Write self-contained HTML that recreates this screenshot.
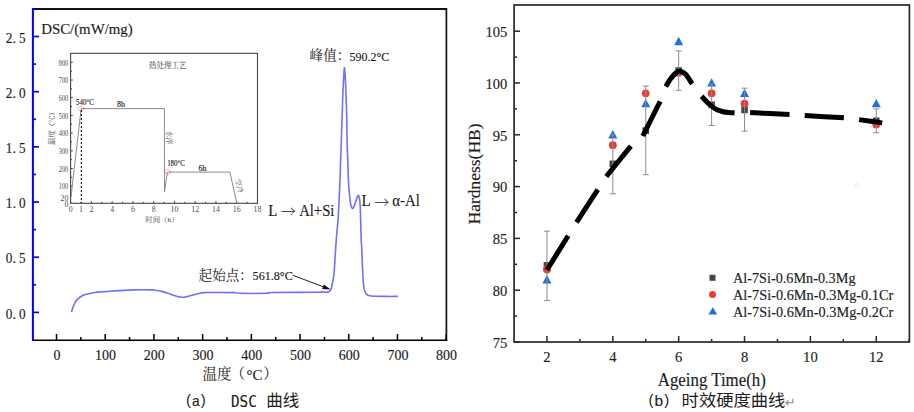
<!DOCTYPE html>
<html><head><meta charset="utf-8"><title>DSC and hardness curves</title>
<style>
html,body{margin:0;padding:0;background:#fff;}
body{width:914px;height:412px;overflow:hidden;}
svg{display:block;}
text{fill:#1c1c1c;stroke:#1c1c1c;stroke-width:0.15px;}
.c13,.c14,.c14p,.cap,.arr,.it,.i8c,.i7c,.ret,.capp{stroke:none;}
.tl{font-family:'Liberation Serif','Noto Serif CJK SC',serif;font-size:14px;}
.yl{font-family:'Liberation Serif','Noto Serif CJK SC',serif;font-size:14.5px;}
.rl{font-family:'Liberation Serif','Noto Serif CJK SC',serif;font-size:14.6px;}
.t15{font-family:'Liberation Serif','Noto Serif CJK SC',serif;font-size:15px;}
.t15b{font-family:'Liberation Serif','Noto Serif CJK SC',serif;font-size:15.6px;}
.t13{font-family:'Liberation Serif','Noto Serif CJK SC',serif;font-size:13px;}
.t17{font-family:'Liberation Serif','Noto Serif CJK SC',serif;font-size:18.6px;}
.t16{font-family:'Liberation Serif','Noto Serif CJK SC',serif;font-size:16.5px;}
.c14{font-family:'Liberation Serif','Noto Serif CJK SC',serif;font-size:14.5px;}
.c14p{font-family:'Liberation Serif','Noto Serif CJK SC',serif;font-size:15px;}
.c13{font-family:'Liberation Serif','Noto Serif CJK SC',serif;font-size:13.6px;}
.arr{font-family:'Noto Serif CJK SC',serif;font-size:15px;}
.capp{font-family:'Liberation Sans',sans-serif;font-size:15px;font-weight:300;}
.capm{font-family:'DejaVu Sans Mono','Liberation Mono',monospace;font-size:15.5px;}
.capa{font-family:'Liberation Sans',sans-serif;font-size:15px;}
.lg{font-family:'Liberation Serif','Noto Serif CJK SC',serif;font-size:14px;}
.cap{font-family:'Liberation Sans','Noto Sans CJK SC',sans-serif;font-size:16px;}
.it{font-family:'Liberation Serif','Noto Serif CJK SC',serif;font-size:7.8px;fill:#4a4a4a;}
.i8{font-family:'Liberation Serif','Noto Serif CJK SC',serif;font-size:8px;}
.i8c{font-family:'Liberation Serif','Noto Serif CJK SC',serif;font-size:7.5px;fill:#333;}
.i7c{font-family:'Liberation Serif','Noto Serif CJK SC',serif;font-size:7px;fill:#444;}
.ret{font-family:'DejaVu Sans',sans-serif;font-size:13px;fill:#8a8a8a;}
</style></head>
<body>
<svg width="914" height="412" viewBox="0 0 914 412">
<rect width="914" height="412" fill="#fff"/>
<line x1="32" y1="8.9" x2="446.4" y2="8.9" stroke="#111" stroke-width="2"/>
<line x1="446.4" y1="8" x2="446.4" y2="341" stroke="#111" stroke-width="1.7"/>
<line x1="32" y1="340.3" x2="447.2" y2="340.3" stroke="#000" stroke-width="1.6"/>
<line x1="56.50" y1="334" x2="56.50" y2="340" stroke="#000" stroke-width="1.5"/>
<text x="56.90" y="360.4" text-anchor="middle" class="tl">0</text>
<line x1="105.21" y1="334" x2="105.21" y2="340" stroke="#000" stroke-width="1.5"/>
<text x="105.61" y="360.4" text-anchor="middle" class="tl">100</text>
<line x1="153.92" y1="334" x2="153.92" y2="340" stroke="#000" stroke-width="1.5"/>
<text x="154.32" y="360.4" text-anchor="middle" class="tl">200</text>
<line x1="202.64" y1="334" x2="202.64" y2="340" stroke="#000" stroke-width="1.5"/>
<text x="203.04" y="360.4" text-anchor="middle" class="tl">300</text>
<line x1="251.35" y1="334" x2="251.35" y2="340" stroke="#000" stroke-width="1.5"/>
<text x="251.75" y="360.4" text-anchor="middle" class="tl">400</text>
<line x1="300.06" y1="334" x2="300.06" y2="340" stroke="#000" stroke-width="1.5"/>
<text x="300.46" y="360.4" text-anchor="middle" class="tl">500</text>
<line x1="348.77" y1="334" x2="348.77" y2="340" stroke="#000" stroke-width="1.5"/>
<text x="349.17" y="360.4" text-anchor="middle" class="tl">600</text>
<line x1="397.48" y1="334" x2="397.48" y2="340" stroke="#000" stroke-width="1.5"/>
<text x="397.88" y="360.4" text-anchor="middle" class="tl">700</text>
<line x1="446.20" y1="334" x2="446.20" y2="340" stroke="#000" stroke-width="1.5"/>
<text x="446.60" y="360.4" text-anchor="middle" class="tl">800</text>
<line x1="80.86" y1="337" x2="80.86" y2="340" stroke="#000" stroke-width="1.5"/>
<line x1="129.57" y1="337" x2="129.57" y2="340" stroke="#000" stroke-width="1.5"/>
<line x1="178.28" y1="337" x2="178.28" y2="340" stroke="#000" stroke-width="1.5"/>
<line x1="226.99" y1="337" x2="226.99" y2="340" stroke="#000" stroke-width="1.5"/>
<line x1="275.70" y1="337" x2="275.70" y2="340" stroke="#000" stroke-width="1.5"/>
<line x1="324.42" y1="337" x2="324.42" y2="340" stroke="#000" stroke-width="1.5"/>
<line x1="373.13" y1="337" x2="373.13" y2="340" stroke="#000" stroke-width="1.5"/>
<line x1="421.84" y1="337" x2="421.84" y2="340" stroke="#000" stroke-width="1.5"/>
<line x1="32.9" y1="8" x2="32.9" y2="341" stroke="#0000ff" stroke-width="2"/>
<line x1="33" y1="312.40" x2="39" y2="312.40" stroke="#0000ff" stroke-width="1.7"/>
<text y="318.50" class="yl"><tspan x="5.8" textLength="6.6" lengthAdjust="spacingAndGlyphs">0</tspan><tspan x="12.6">.</tspan><tspan x="18.9" textLength="6.6" lengthAdjust="spacingAndGlyphs">0</tspan></text>
<line x1="33" y1="257.22" x2="39" y2="257.22" stroke="#0000ff" stroke-width="1.7"/>
<text y="263.32" class="yl"><tspan x="5.8" textLength="6.6" lengthAdjust="spacingAndGlyphs">0</tspan><tspan x="12.6">.</tspan><tspan x="18.9" textLength="6.6" lengthAdjust="spacingAndGlyphs">5</tspan></text>
<line x1="33" y1="202.04" x2="39" y2="202.04" stroke="#0000ff" stroke-width="1.7"/>
<text y="208.14" class="yl"><tspan x="5.8" textLength="6.6" lengthAdjust="spacingAndGlyphs">1</tspan><tspan x="12.6">.</tspan><tspan x="18.9" textLength="6.6" lengthAdjust="spacingAndGlyphs">0</tspan></text>
<line x1="33" y1="146.86" x2="39" y2="146.86" stroke="#0000ff" stroke-width="1.7"/>
<text y="152.96" class="yl"><tspan x="5.8" textLength="6.6" lengthAdjust="spacingAndGlyphs">1</tspan><tspan x="12.6">.</tspan><tspan x="18.9" textLength="6.6" lengthAdjust="spacingAndGlyphs">5</tspan></text>
<line x1="33" y1="91.68" x2="39" y2="91.68" stroke="#0000ff" stroke-width="1.7"/>
<text y="97.78" class="yl"><tspan x="5.8" textLength="6.6" lengthAdjust="spacingAndGlyphs">2</tspan><tspan x="12.6">.</tspan><tspan x="18.9" textLength="6.6" lengthAdjust="spacingAndGlyphs">0</tspan></text>
<line x1="33" y1="36.50" x2="39" y2="36.50" stroke="#0000ff" stroke-width="1.7"/>
<text y="42.60" class="yl"><tspan x="5.8" textLength="6.6" lengthAdjust="spacingAndGlyphs">2</tspan><tspan x="12.6">.</tspan><tspan x="18.9" textLength="6.6" lengthAdjust="spacingAndGlyphs">5</tspan></text>
<line x1="33" y1="284.81" x2="36" y2="284.81" stroke="#0000ff" stroke-width="1.7"/>
<line x1="33" y1="229.63" x2="36" y2="229.63" stroke="#0000ff" stroke-width="1.7"/>
<line x1="33" y1="174.45" x2="36" y2="174.45" stroke="#0000ff" stroke-width="1.7"/>
<line x1="33" y1="119.27" x2="36" y2="119.27" stroke="#0000ff" stroke-width="1.7"/>
<line x1="33" y1="64.09" x2="36" y2="64.09" stroke="#0000ff" stroke-width="1.7"/>
<line x1="33" y1="8.91" x2="36" y2="8.91" stroke="#0000ff" stroke-width="1.7"/>
<path d="M71.50,312.00 C71.73,311.27 72.37,309.07 72.90,307.60 C73.43,306.13 74.03,304.48 74.70,303.20 C75.37,301.92 75.98,300.93 76.90,299.90 C77.82,298.87 78.98,297.85 80.20,297.00 C81.42,296.15 82.80,295.35 84.20,294.80 C85.60,294.25 87.02,294.05 88.60,293.70 C90.18,293.35 91.88,293.00 93.70,292.70 C95.52,292.40 97.57,292.08 99.50,291.90 C101.43,291.72 103.58,291.72 105.30,291.60 C107.02,291.48 107.40,291.37 109.80,291.20 C112.20,291.03 115.87,290.82 119.70,290.60 C123.53,290.38 127.33,290.02 132.80,289.90 C138.27,289.78 148.63,289.82 152.50,289.90 C156.37,289.98 154.48,290.15 156.00,290.40 C157.52,290.65 159.58,290.92 161.60,291.40 C163.62,291.88 165.92,292.60 168.10,293.30 C170.28,294.00 172.63,294.97 174.70,295.60 C176.77,296.23 178.75,296.85 180.50,297.10 C182.25,297.35 183.43,297.37 185.20,297.10 C186.97,296.83 189.02,296.07 191.10,295.50 C193.18,294.93 195.52,294.18 197.70,293.70 C199.88,293.22 201.32,292.80 204.20,292.60 C207.08,292.40 209.98,292.50 215.00,292.50 C220.02,292.50 230.13,292.47 234.30,292.60 C238.47,292.73 234.55,293.18 240.00,293.30 C245.45,293.42 261.67,293.43 267.00,293.30 C272.33,293.17 263.50,292.68 272.00,292.50 C280.50,292.32 309.67,292.33 318.00,292.20 C326.33,292.07 320.67,291.68 322.00,291.70 C323.33,291.72 324.80,292.33 326.00,292.30 C327.20,292.27 328.43,291.88 329.20,291.50 C329.97,291.12 330.22,290.67 330.60,290.00 C330.98,289.33 331.20,288.58 331.50,287.50 C331.80,286.42 331.98,285.80 332.40,283.50 C332.82,281.20 333.57,277.77 334.00,273.70 C334.43,269.63 334.68,263.95 335.00,259.10 C335.32,254.25 335.58,249.12 335.90,244.60 C336.22,240.08 336.53,236.30 336.90,232.00 C337.27,227.70 337.73,224.17 338.10,218.80 C338.47,213.43 338.77,206.60 339.10,199.80 C339.43,193.00 339.85,184.50 340.10,178.00 C340.35,171.50 340.40,166.83 340.60,160.80 C340.80,154.77 341.07,148.57 341.30,141.80 C341.53,135.03 341.77,127.43 342.00,120.20 C342.23,112.97 342.45,104.95 342.70,98.40 C342.95,91.85 343.20,86.00 343.50,80.90 C343.80,75.80 344.15,67.32 344.50,67.80 C344.85,68.28 345.28,77.48 345.60,83.80 C345.92,90.12 346.20,99.63 346.40,105.70 C346.60,111.77 346.68,114.18 346.80,120.20 C346.92,126.22 346.93,135.03 347.10,141.80 C347.27,148.57 347.60,154.77 347.80,160.80 C348.00,166.83 348.05,172.70 348.30,178.00 C348.55,183.30 348.90,188.23 349.30,192.60 C349.70,196.97 350.22,201.58 350.70,204.20 C351.18,206.82 351.70,207.82 352.20,208.30 C352.70,208.78 353.10,208.27 353.70,207.10 C354.30,205.93 355.15,203.12 355.80,201.30 C356.45,199.48 357.12,197.12 357.60,196.20 C358.08,195.28 358.32,194.95 358.70,195.80 C359.08,196.65 359.60,198.20 359.90,201.30 C360.20,204.40 360.30,208.28 360.50,214.40 C360.70,220.52 360.92,232.73 361.10,238.00 C361.28,243.27 361.45,243.23 361.60,246.00 C361.75,248.77 361.83,250.75 362.00,254.60 C362.17,258.45 362.37,264.25 362.60,269.10 C362.83,273.95 363.05,280.02 363.40,283.70 C363.75,287.38 364.03,289.32 364.70,291.20 C365.37,293.08 366.35,294.20 367.40,295.00 C368.45,295.80 368.07,295.77 371.00,296.00 C373.93,296.23 380.52,296.33 385.00,296.40 C389.48,296.47 395.75,296.40 397.90,296.40" fill="none" stroke="#7070fb" stroke-width="1.6" stroke-linejoin="round"/>
<text x="41.2" y="33.8" class="t15b" textLength="91.5" lengthAdjust="spacingAndGlyphs">DSC/(mW/mg)</text>
<text x="309.6" y="60.2" class="c13">峰值：</text>
<text x="349.4" y="60.8" class="t13" textLength="39.8" lengthAdjust="spacingAndGlyphs">590.2°C</text>
<text x="198.6" y="280.2" class="c13">起始点：</text>
<text x="252.6" y="280.1" class="t13" textLength="40.2" lengthAdjust="spacingAndGlyphs">561.8°C</text>
<line x1="292.6" y1="275.2" x2="324" y2="287" stroke="#222" stroke-width="1"/>
<polygon points="330.6,289.5 323.9,284.4 322.1,289" fill="#111"/>
<text x="268.3" y="215.6" class="t16" textLength="9.2" lengthAdjust="spacingAndGlyphs">L</text>
<text x="280.8" y="217.1" class="arr">→</text>
<text x="299.2" y="215.6" class="t16" textLength="35.2" lengthAdjust="spacingAndGlyphs">Al+Si</text>
<text x="361.6" y="206" class="t16" textLength="9.2" lengthAdjust="spacingAndGlyphs">L</text>
<text x="374.2" y="207.5" class="arr">→</text>
<text x="392.2" y="206" class="t16" textLength="27.6" lengthAdjust="spacingAndGlyphs">α-Al</text>
<text x="202.6" y="378.9" class="c14">温度</text>
<text x="230.2" y="378.9" class="c14p">（</text>
<text x="246.6" y="379.6" class="t15" textLength="16" lengthAdjust="spacingAndGlyphs">°C</text>
<text x="263" y="378.9" class="c14p">）</text>
<text x="186" y="404.8" class="capp">(</text>
<text x="191.9" y="406.4" class="capa" textLength="7.6" lengthAdjust="spacingAndGlyphs">a</text>
<text x="200.8" y="404.8" class="capp">)</text>
<text x="230.9" y="407.2" class="capm" textLength="25.9" lengthAdjust="spacingAndGlyphs">DSC</text>
<text x="266.2" y="406" class="cap" textLength="33" lengthAdjust="spacingAndGlyphs">曲线</text>
<rect x="70.6" y="53.3" width="186.9" height="150" fill="none" stroke="#444" stroke-width="1.1"/>
<line x1="70.60" y1="201.10" x2="70.60" y2="203.3" stroke="#444" stroke-width="1"/>
<line x1="80.98" y1="201.80" x2="80.98" y2="203.3" stroke="#444" stroke-width="1"/>
<line x1="91.36" y1="201.10" x2="91.36" y2="203.3" stroke="#444" stroke-width="1"/>
<line x1="101.74" y1="201.80" x2="101.74" y2="203.3" stroke="#444" stroke-width="1"/>
<line x1="112.12" y1="201.10" x2="112.12" y2="203.3" stroke="#444" stroke-width="1"/>
<line x1="122.50" y1="201.80" x2="122.50" y2="203.3" stroke="#444" stroke-width="1"/>
<line x1="132.88" y1="201.10" x2="132.88" y2="203.3" stroke="#444" stroke-width="1"/>
<line x1="143.26" y1="201.80" x2="143.26" y2="203.3" stroke="#444" stroke-width="1"/>
<line x1="153.64" y1="201.10" x2="153.64" y2="203.3" stroke="#444" stroke-width="1"/>
<line x1="164.02" y1="201.80" x2="164.02" y2="203.3" stroke="#444" stroke-width="1"/>
<line x1="174.40" y1="201.10" x2="174.40" y2="203.3" stroke="#444" stroke-width="1"/>
<line x1="184.78" y1="201.80" x2="184.78" y2="203.3" stroke="#444" stroke-width="1"/>
<line x1="195.16" y1="201.10" x2="195.16" y2="203.3" stroke="#444" stroke-width="1"/>
<line x1="205.54" y1="201.80" x2="205.54" y2="203.3" stroke="#444" stroke-width="1"/>
<line x1="215.92" y1="201.10" x2="215.92" y2="203.3" stroke="#444" stroke-width="1"/>
<line x1="226.30" y1="201.80" x2="226.30" y2="203.3" stroke="#444" stroke-width="1"/>
<line x1="236.68" y1="201.10" x2="236.68" y2="203.3" stroke="#444" stroke-width="1"/>
<line x1="247.06" y1="201.80" x2="247.06" y2="203.3" stroke="#444" stroke-width="1"/>
<line x1="257.44" y1="201.10" x2="257.44" y2="203.3" stroke="#444" stroke-width="1"/>
<text x="70.60" y="212.3" text-anchor="middle" class="it">0</text>
<text x="80.98" y="212.3" text-anchor="middle" class="it">1</text>
<text x="91.36" y="212.3" text-anchor="middle" class="it">2</text>
<text x="112.12" y="212.3" text-anchor="middle" class="it">4</text>
<text x="132.88" y="212.3" text-anchor="middle" class="it">6</text>
<text x="153.64" y="212.3" text-anchor="middle" class="it">8</text>
<text x="174.40" y="212.3" text-anchor="middle" class="it">10</text>
<text x="195.16" y="212.3" text-anchor="middle" class="it">12</text>
<text x="215.92" y="212.3" text-anchor="middle" class="it">14</text>
<text x="236.68" y="212.3" text-anchor="middle" class="it">16</text>
<text x="257.44" y="212.3" text-anchor="middle" class="it">18</text>
<line x1="70.6" y1="195.05" x2="72.10" y2="195.05" stroke="#444" stroke-width="1"/>
<line x1="70.6" y1="186.20" x2="72.80" y2="186.20" stroke="#444" stroke-width="1"/>
<line x1="70.6" y1="177.35" x2="72.10" y2="177.35" stroke="#444" stroke-width="1"/>
<line x1="70.6" y1="168.50" x2="72.80" y2="168.50" stroke="#444" stroke-width="1"/>
<line x1="70.6" y1="159.65" x2="72.10" y2="159.65" stroke="#444" stroke-width="1"/>
<line x1="70.6" y1="150.80" x2="72.80" y2="150.80" stroke="#444" stroke-width="1"/>
<line x1="70.6" y1="141.95" x2="72.10" y2="141.95" stroke="#444" stroke-width="1"/>
<line x1="70.6" y1="133.10" x2="72.80" y2="133.10" stroke="#444" stroke-width="1"/>
<line x1="70.6" y1="124.25" x2="72.10" y2="124.25" stroke="#444" stroke-width="1"/>
<line x1="70.6" y1="115.40" x2="72.80" y2="115.40" stroke="#444" stroke-width="1"/>
<line x1="70.6" y1="106.55" x2="72.10" y2="106.55" stroke="#444" stroke-width="1"/>
<line x1="70.6" y1="97.70" x2="72.80" y2="97.70" stroke="#444" stroke-width="1"/>
<line x1="70.6" y1="88.85" x2="72.10" y2="88.85" stroke="#444" stroke-width="1"/>
<line x1="70.6" y1="80.00" x2="72.80" y2="80.00" stroke="#444" stroke-width="1"/>
<line x1="70.6" y1="71.15" x2="72.10" y2="71.15" stroke="#444" stroke-width="1"/>
<line x1="70.6" y1="62.30" x2="72.80" y2="62.30" stroke="#444" stroke-width="1"/>
<text x="68.3" y="189.40" text-anchor="end" class="it" textLength="9.6" lengthAdjust="spacingAndGlyphs">100</text>
<text x="68.3" y="171.70" text-anchor="end" class="it" textLength="9.6" lengthAdjust="spacingAndGlyphs">200</text>
<text x="68.3" y="154.00" text-anchor="end" class="it" textLength="9.6" lengthAdjust="spacingAndGlyphs">300</text>
<text x="68.3" y="136.30" text-anchor="end" class="it" textLength="9.6" lengthAdjust="spacingAndGlyphs">400</text>
<text x="68.3" y="118.60" text-anchor="end" class="it" textLength="9.6" lengthAdjust="spacingAndGlyphs">500</text>
<text x="68.3" y="100.90" text-anchor="end" class="it" textLength="9.6" lengthAdjust="spacingAndGlyphs">600</text>
<text x="68.3" y="83.20" text-anchor="end" class="it" textLength="9.6" lengthAdjust="spacingAndGlyphs">700</text>
<text x="68.3" y="65.50" text-anchor="end" class="it" textLength="9.6" lengthAdjust="spacingAndGlyphs">800</text>
<text x="68.3" y="200.7" text-anchor="end" class="it">20</text>
<text x="68.3" y="206.9" text-anchor="end" class="it">0</text>
<polyline points="70.9,197.5 81.2,108.6 164.4,108.6 164.5,191.8 167.4,172.1 229.9,172.1 236.6,202.5" fill="none" stroke="#8a8a8a" stroke-width="1"/>
<line x1="81.4" y1="110" x2="81.4" y2="203" stroke="#222" stroke-width="1.2" stroke-dasharray="2 2"/>
<circle cx="80.9" cy="108.6" r="2.6" fill="none" stroke="#e33" stroke-width="0.7" stroke-dasharray="1 0.8"/>
<circle cx="167.6" cy="172.2" r="2.6" fill="none" stroke="#e33" stroke-width="0.7" stroke-dasharray="1 0.8"/>
<text x="76" y="104.9" class="i8" textLength="18" lengthAdjust="spacingAndGlyphs">540°C</text>
<text x="167.2" y="166.1" class="i8" textLength="17.6" lengthAdjust="spacingAndGlyphs">180°C</text>
<text x="120.9" y="106.5" text-anchor="middle" class="i8">8h</text>
<text x="202.5" y="171" text-anchor="middle" class="i8">6h</text>
<text x="167.7" y="67.8" text-anchor="middle" class="i8c">热处理工艺</text>
<text transform="translate(53.9,126.5) rotate(-90)" text-anchor="middle" class="i7c" textLength="37" lengthAdjust="spacingAndGlyphs">温度（℃）</text>
<text transform="translate(167.3,137.6) rotate(90)" text-anchor="middle" class="i7c">水淬</text>
<text transform="translate(236.8,186.6) rotate(77)" text-anchor="middle" class="i7c">空冷</text>
<text x="145.2" y="221.6" class="i7c" textLength="33.5" lengthAdjust="spacingAndGlyphs">时间（h）</text>
<rect x="514.1" y="5" width="395.3" height="337" fill="none" stroke="#2a2a2a" stroke-width="1.7"/>
<line x1="546.96" y1="336" x2="546.96" y2="342" stroke="#2a2a2a" stroke-width="1.5"/>
<text x="546.96" y="361.5" text-anchor="middle" class="rl">2</text>
<line x1="612.82" y1="336" x2="612.82" y2="342" stroke="#2a2a2a" stroke-width="1.5"/>
<text x="612.82" y="361.5" text-anchor="middle" class="rl">4</text>
<line x1="678.68" y1="336" x2="678.68" y2="342" stroke="#2a2a2a" stroke-width="1.5"/>
<text x="678.68" y="361.5" text-anchor="middle" class="rl">6</text>
<line x1="744.54" y1="336" x2="744.54" y2="342" stroke="#2a2a2a" stroke-width="1.5"/>
<text x="744.54" y="361.5" text-anchor="middle" class="rl">8</text>
<line x1="810.40" y1="336" x2="810.40" y2="342" stroke="#2a2a2a" stroke-width="1.5"/>
<text x="810.40" y="361.5" text-anchor="middle" class="rl">10</text>
<line x1="876.26" y1="336" x2="876.26" y2="342" stroke="#2a2a2a" stroke-width="1.5"/>
<text x="876.26" y="361.5" text-anchor="middle" class="rl">12</text>
<line x1="579.89" y1="339" x2="579.89" y2="342" stroke="#2a2a2a" stroke-width="1.5"/>
<line x1="645.75" y1="339" x2="645.75" y2="342" stroke="#2a2a2a" stroke-width="1.5"/>
<line x1="711.61" y1="339" x2="711.61" y2="342" stroke="#2a2a2a" stroke-width="1.5"/>
<line x1="777.47" y1="339" x2="777.47" y2="342" stroke="#2a2a2a" stroke-width="1.5"/>
<line x1="843.33" y1="339" x2="843.33" y2="342" stroke="#2a2a2a" stroke-width="1.5"/>
<line x1="909.19" y1="339" x2="909.19" y2="342" stroke="#2a2a2a" stroke-width="1.5"/>
<line x1="514" y1="342.00" x2="520" y2="342.00" stroke="#2a2a2a" stroke-width="1.5"/>
<text x="507.4" y="347.80" text-anchor="end" class="rl">75</text>
<line x1="514" y1="290.20" x2="520" y2="290.20" stroke="#2a2a2a" stroke-width="1.5"/>
<text x="507.4" y="296.00" text-anchor="end" class="rl">80</text>
<line x1="514" y1="238.40" x2="520" y2="238.40" stroke="#2a2a2a" stroke-width="1.5"/>
<text x="507.4" y="244.20" text-anchor="end" class="rl">85</text>
<line x1="514" y1="186.60" x2="520" y2="186.60" stroke="#2a2a2a" stroke-width="1.5"/>
<text x="507.4" y="192.40" text-anchor="end" class="rl">90</text>
<line x1="514" y1="134.80" x2="520" y2="134.80" stroke="#2a2a2a" stroke-width="1.5"/>
<text x="507.4" y="140.60" text-anchor="end" class="rl">95</text>
<line x1="514" y1="83.00" x2="520" y2="83.00" stroke="#2a2a2a" stroke-width="1.5"/>
<text x="507.4" y="88.80" text-anchor="end" class="rl">100</text>
<line x1="514" y1="31.20" x2="520" y2="31.20" stroke="#2a2a2a" stroke-width="1.5"/>
<text x="507.4" y="37.00" text-anchor="end" class="rl">105</text>
<line x1="514" y1="316.10" x2="517" y2="316.10" stroke="#2a2a2a" stroke-width="1.5"/>
<line x1="514" y1="264.30" x2="517" y2="264.30" stroke="#2a2a2a" stroke-width="1.5"/>
<line x1="514" y1="212.50" x2="517" y2="212.50" stroke="#2a2a2a" stroke-width="1.5"/>
<line x1="514" y1="160.70" x2="517" y2="160.70" stroke="#2a2a2a" stroke-width="1.5"/>
<line x1="514" y1="108.90" x2="517" y2="108.90" stroke="#2a2a2a" stroke-width="1.5"/>
<line x1="514" y1="57.10" x2="517" y2="57.10" stroke="#2a2a2a" stroke-width="1.5"/>
<rect x="543.66" y="262.04" width="6.6" height="6.6" fill="#454545"/>
<rect x="609.52" y="160.51" width="6.6" height="6.6" fill="#454545"/>
<rect x="642.45" y="127.36" width="6.6" height="6.6" fill="#454545"/>
<rect x="675.38" y="67.27" width="6.6" height="6.6" fill="#454545"/>
<rect x="708.31" y="101.46" width="6.6" height="6.6" fill="#454545"/>
<rect x="741.24" y="106.64" width="6.6" height="6.6" fill="#454545"/>
<rect x="872.96" y="117.51" width="6.6" height="6.6" fill="#454545"/>
<circle cx="546.96" cy="269.48" r="3.9" fill="#ea3b3b"/>
<circle cx="612.82" cy="145.16" r="3.9" fill="#ea3b3b"/>
<circle cx="645.75" cy="93.36" r="3.9" fill="#ea3b3b"/>
<circle cx="678.68" cy="72.64" r="3.9" fill="#ea3b3b"/>
<circle cx="711.61" cy="93.36" r="3.9" fill="#ea3b3b"/>
<circle cx="744.54" cy="103.72" r="3.9" fill="#ea3b3b"/>
<circle cx="876.26" cy="124.44" r="3.9" fill="#ea3b3b"/>
<polygon points="546.96,275.04 551.46,283.44 542.46,283.44" fill="#1f6fdc"/>
<polygon points="612.82,130.00 617.32,138.40 608.32,138.40" fill="#1f6fdc"/>
<polygon points="645.75,98.92 650.25,107.32 641.25,107.32" fill="#1f6fdc"/>
<polygon points="678.68,36.76 683.18,45.16 674.18,45.16" fill="#1f6fdc"/>
<polygon points="711.61,78.20 716.11,86.60 707.11,86.60" fill="#1f6fdc"/>
<polygon points="744.54,88.56 749.04,96.96 740.04,96.96" fill="#1f6fdc"/>
<polygon points="876.26,98.92 880.76,107.32 871.76,107.32" fill="#1f6fdc"/>
<path d="M546.96,231.15 V300.56 M543.96,231.15 h6 M543.96,300.56 h6" stroke="#8c8c8c" stroke-width="1" fill="none"/>
<path d="M612.82,134.80 V193.85 M609.82,134.80 h6 M609.82,193.85 h6" stroke="#8c8c8c" stroke-width="1" fill="none"/>
<path d="M645.75,86.11 V174.69 M642.75,86.11 h6 M642.75,174.69 h6" stroke="#8c8c8c" stroke-width="1" fill="none"/>
<path d="M678.68,50.88 V90.25 M675.68,50.88 h6 M675.68,90.25 h6" stroke="#8c8c8c" stroke-width="1" fill="none"/>
<path d="M711.61,84.04 V125.48 M708.61,84.04 h6 M708.61,125.48 h6" stroke="#8c8c8c" stroke-width="1" fill="none"/>
<path d="M744.54,88.18 V131.17 M741.54,88.18 h6 M741.54,131.17 h6" stroke="#8c8c8c" stroke-width="1" fill="none"/>
<path d="M876.26,108.90 V132.73 M873.26,108.90 h6 M873.26,132.73 h6" stroke="#8c8c8c" stroke-width="1" fill="none"/>
<path d="M546.90,270.00 C550.45,264.30 564.65,241.50 568.20,235.80 M576.50,222.30 C580.05,216.85 594.25,195.05 597.80,189.60 M606.30,176.50 C608.35,173.95 614.50,166.27 618.60,161.20 C622.70,156.13 628.85,148.62 630.90,146.10 M642.80,136.00 C644.22,133.17 648.40,124.78 651.30,119.00 C654.20,113.22 658.72,104.25 660.20,101.30 M665.70,86.50 C666.67,85.02 669.37,80.13 671.50,77.60 C673.63,75.07 676.17,71.87 678.50,71.30 C680.83,70.73 683.23,72.10 685.50,74.20 C687.77,76.30 691.00,82.28 692.10,83.90 M701.60,96.20 C702.48,97.17 705.18,100.32 706.90,102.00 C708.62,103.68 710.22,105.00 711.90,106.30 C713.58,107.60 715.12,108.90 717.00,109.80 C718.88,110.70 721.25,111.25 723.20,111.70 C725.15,112.15 726.80,112.30 728.70,112.50 C730.60,112.70 733.62,112.83 734.60,112.90 M750.10,112.60 C756.67,112.92 782.93,114.18 789.50,114.50 M804.70,115.50 C811.23,115.88 837.37,117.42 843.90,117.80 M859.10,119.60 C862.95,120.15 878.35,122.35 882.20,122.90" fill="none" stroke="#000" stroke-width="5"/>
<circle cx="856.7" cy="185.4" r="1.8" fill="none" stroke="#e6e6ea" stroke-width="1"/>
<rect x="709.5" y="274.8" width="6" height="6" fill="#454545"/>
<circle cx="712.5" cy="294.5" r="3.5" fill="#ea3b3b"/>
<polygon points="712.8,307.2 717.2,314.6 708.4,314.6" fill="#1f6fdc"/>
<text x="733" y="282.8" class="lg" textLength="122.5" lengthAdjust="spacingAndGlyphs">Al-7Si-0.6Mn-0.3Mg</text>
<text x="733" y="299.9" class="lg" textLength="160.3" lengthAdjust="spacingAndGlyphs">Al-7Si-0.6Mn-0.3Mg-0.1Cr</text>
<text x="733" y="316.7" class="lg" textLength="160.3" lengthAdjust="spacingAndGlyphs">Al-7Si-0.6Mn-0.3Mg-0.2Cr</text>
<text transform="translate(479.7,224.5) rotate(-90)" class="t16" textLength="101" lengthAdjust="spacingAndGlyphs">Hardness(HB)</text>
<text x="657.8" y="385.5" class="t17" textLength="108" lengthAdjust="spacingAndGlyphs">Ageing Time(h)</text>
<text x="648.6" y="405.2" class="capp">(</text>
<text x="654.5" y="405.6" class="capa" textLength="8.6" lengthAdjust="spacingAndGlyphs">b</text>
<text x="664.2" y="405.2" class="capp">)</text>
<text x="681.6" y="406.4" class="cap" textLength="103.8" lengthAdjust="spacingAndGlyphs">时效硬度曲线</text>
<text x="785" y="407.3" class="ret">↵</text>
</svg>
</body></html>
